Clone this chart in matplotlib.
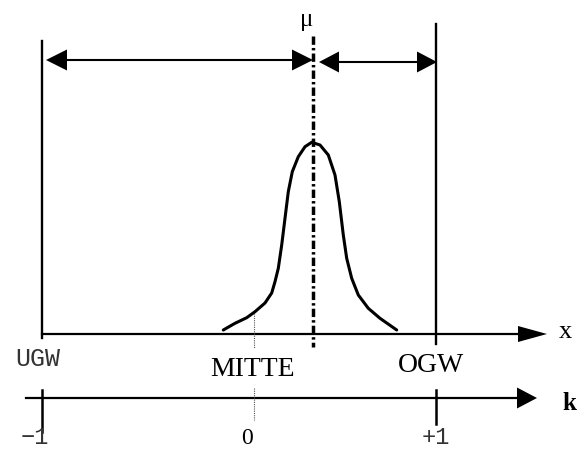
import numpy as np
import matplotlib
matplotlib.use("Agg")
import matplotlib.pyplot as plt

# Lage der Grenzen auf der x-Achse (Zeichenflaeche in Pixeln, y nach unten)
ugw_x = 42
mitte_x = 254
mu_x = 313
ogw_x = 436

x_axis_y = 334
k_axis_y = 398

# Verteilungskurve um mu
curve_x = [223.3, 235, 246.7, 255, 265, 271.7, 275, 278.3, 281.7, 285, 288.3,
           292.3, 298.3, 305, 311.7, 320, 328.3, 335, 339.3, 343.3, 346.7,
           351.7, 358.3, 368.3, 380, 396.7]
curve_y = [330, 323.3, 317.7, 311.7, 303, 293, 281.7, 268.3, 245, 218.3, 191.7,
           171.7, 156.7, 146.7, 142.3, 145, 155, 175, 201.7, 235, 258.3,
           278.3, 295, 308.3, 318.3, 330]

k_ticks = [ugw_x, mitte_x, ogw_x]
k_labels = ["\u22121", "0", "+1"]

serif = "Liberation Serif"
mono = "Liberation Mono"


def arrowhead(ax, tip_x, y, direction, length, height):
    # gefuelltes Dreieck, direction = +1 nach rechts, -1 nach links
    base = tip_x - direction * length
    ax.fill([tip_x, base, base], [y, y - height / 2, y + height / 2],
            color="black", lw=0)


fig = plt.figure(figsize=(5.86, 4.5), dpi=100)
ax = fig.add_axes([0, 0, 1, 1])
ax.set_xlim(0, 586)
ax.set_ylim(450, 0)
ax.axis("off")

# senkrechte Grenzlinien
ax.plot([ugw_x, ugw_x], [41, 338], color="black", lw=1.7)
ax.plot([ogw_x, ogw_x], [24, 344], color="black", lw=1.7)
ax.plot([mu_x, mu_x], [36, 347], color="black", lw=2.5,
        linestyle=(0, (2.4, 0.9, 0.7, 0.9)))

# Abstaende oben
ax.plot([ugw_x + 10, mu_x - 10], [60, 60], color="black", lw=1.5)
arrowhead(ax, ugw_x + 4, 60, -1, 21, 21)
arrowhead(ax, mu_x, 60, 1, 21, 21)
ax.plot([mu_x + 16, ogw_x - 10], [62, 62], color="black", lw=1.5)
arrowhead(ax, mu_x + 6, 62, -1, 20, 21)
arrowhead(ax, ogw_x + 1, 62, 1, 20, 21)

# x-Achse
ax.plot([ugw_x, 530], [x_axis_y, x_axis_y], color="black", lw=1.6)
arrowhead(ax, 547, x_axis_y, 1, 29, 16)

# k-Achse
ax.plot([26, 525], [k_axis_y, k_axis_y], color="black", lw=1.6)
arrowhead(ax, 537, k_axis_y, 1, 20, 21)
ax.plot([ugw_x, ugw_x], [390, 432], color="black", lw=1.8)
ax.plot([ogw_x, ogw_x], [390, 424], color="black", lw=1.8)

# Hilfslinie MITTE
ax.plot([mitte_x, mitte_x], [313, 348], color="#555555", lw=0.8, ls=(0, (1, 1)))
ax.plot([mitte_x, mitte_x], [388, 420], color="#555555", lw=0.8, ls=(0, (1, 1)))

# Kurve
ax.plot(curve_x, curve_y, color="black", lw=2.2, solid_capstyle="round",
        solid_joinstyle="round")

# Beschriftungen
ax.text(mu_x - 6, 20, "\u03bc", fontsize=18, family=serif, ha="center", va="center")
ax.text(565, 332, "x", fontsize=19, family=serif, ha="center", va="center")
ax.text(569, 404, "k", fontsize=18, family=serif, weight="bold", ha="center", va="center")
ax.text(ugw_x - 4, 359, "UGW", fontsize=18, family=mono, color="#333333",
        ha="center", va="center")
ax.text(mitte_x - 1, 370, "MITTE", fontsize=20, family=serif, ha="center", va="center")
ax.text(ogw_x - 5, 366, "OGW", fontsize=20, family=serif, ha="center", va="center")

for xt, lab in zip(k_ticks, k_labels):
    fam = serif if lab == "0" else mono
    ax.text(xt - 7 if lab != "+1" else xt, 449, lab, fontsize=17, family=fam,
            color="black" if lab == "0" else "#333333", ha="center", va="bottom")

fig.savefig("out.png", dpi=100, facecolor="white")
